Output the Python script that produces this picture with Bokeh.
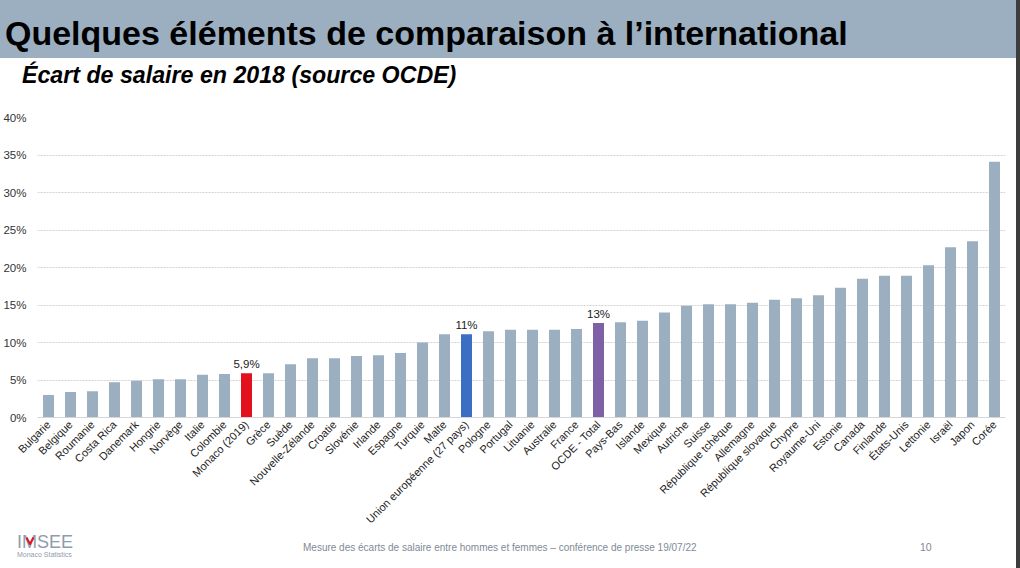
import math
from bokeh.plotting import figure
from bokeh.models import (ColumnDataSource, FactorRange, Range1d, FixedTicker,
                          PrintfTickFormatter, Div)
from bokeh.layouts import column
from bokeh.core.properties import value
from bokeh.embed import file_html
from bokeh.resources import INLINE

# ---------------- data ----------------
countries = [
    "Bulgarie", "Belgique", "Roumanie", "Costa Rica", "Danemark", "Hongrie", "Norvège",
    "Italie", "Colombie", "Monaco (2019)", "Grèce", "Suède", "Nouvelle-Zélande", "Croatie",
    "Slovénie", "Irlande", "Espagne", "Turquie", "Malte", "Union européenne (27 pays)",
    "Pologne", "Portugal", "Lituanie", "Australie", "France", "OCDE - Total", "Pays-Bas",
    "Islande", "Mexique", "Autriche", "Suisse", "République tchèque", "Allemagne",
    "République slovaque", "Chypre", "Royaume-Uni", "Estonie", "Canada", "Finlande",
    "États-Unis", "Lettonie", "Israël", "Japon", "Corée",
]
gaps = [
    3.0, 3.4, 3.5, 4.7, 4.9, 5.1, 5.1,
    5.7, 5.8, 5.9, 5.9, 7.1, 7.9, 7.9,
    8.2, 8.3, 8.6, 10.0, 11.1, 11.1,
    11.5, 11.7, 11.7, 11.7, 11.8, 12.6, 12.7,
    12.9, 14.0, 14.9, 15.1, 15.1, 15.3,
    15.7, 15.9, 16.3, 17.3, 18.5, 18.9,
    18.9, 20.3, 22.7, 23.5, 34.1,
]
highlight_names = ["Monaco (2019)", "Union européenne (27 pays)", "OCDE - Total"]
highlight_colors = ["#e3101e", "#3b6fc4", "#7e60a5"]
highlight_labels = ["5,9%", "11%", "13%"]
y_ticks = [0, 5, 10, 15, 20, 25, 30, 35, 40]

title_text = "Quelques éléments de comparaison à l’international"
subtitle_text = "Écart de salaire en 2018 (source OCDE)"
footer_text = "Mesure des écarts de salaire entre hommes et femmes – conférence de presse 19/07/22"
page_number = "10"
logo_text = "IMSEE"
logo_sub = "Monaco Statistics"

BAR = "#9bafc1"
FONT = value("Liberation Sans")
W = 1020
HDR_H, CH_H, FTR_H = 100, 432, 28
BL, BR, BT, FH = 37, 15, 17, 301
BB = CH_H - BT - FH


def absdiv(left, top, text, size, weight="normal", style="normal", color="#000000"):
    return (f'<div style="position:absolute;left:{left}px;top:{top}px;'
            f"font-family:'Liberation Sans',Arial,sans-serif;font-size:{size}px;"
            f'line-height:{size}px;font-weight:{weight};font-style:{style};'
            f'color:{color};white-space:nowrap;">{text}</div>')


# ---------------- header ----------------
hdr_html = (f'<div style="position:relative;width:{W}px;height:{HDR_H}px;">'
            f'<div style="position:absolute;left:0px;top:0px;width:1016px;height:58px;'
            f'background:{BAR};"></div>'
            '<div style="position:absolute;left:1016px;top:0px;width:4px;height:568px;'
            'background:#3d3d3d;z-index:10;"></div>'
            + absdiv(5, 15.5, title_text, 34, weight="bold")
            + absdiv(22, 64.4, subtitle_text, 23.2, weight="bold", style="italic")
            + '</div>')
hdr = Div(text=hdr_html, width=W, height=HDR_H, margin=0,
          styles={"overflow": "visible", "z-index": "10"})

# ---------------- chart ----------------
colors = [highlight_colors[highlight_names.index(c)] if c in highlight_names else BAR
          for c in countries]
src = ColumnDataSource(dict(x=countries, top=gaps, color=colors))

p = figure(x_range=FactorRange(factors=countries, range_padding=0), y_range=Range1d(0, 40),
           width=W, height=CH_H, output_backend="svg", toolbar_location=None,
           min_border_left=BL, min_border_right=BR, min_border_top=BT, min_border_bottom=BB)
p.outline_line_color = None
p.vbar(x="x", top="top", width=0.5, fill_color="color", line_color=None, source=src)

hl_vals = [gaps[countries.index(n)] for n in highlight_names]
p.text(x=highlight_names, y=hl_vals, text=highlight_labels, text_font=FONT,
       text_font_size="11.5px", text_color="#1a1a1a", text_align="center",
       text_baseline="alphabetic", y_offset=-9)

p.xgrid.visible = False
p.ygrid.grid_line_color = "#d3d3d3"
p.ygrid.grid_line_dash = "2 1"
p.ygrid.ticker = FixedTicker(ticks=y_ticks)

p.yaxis.ticker = FixedTicker(ticks=y_ticks)
p.yaxis.formatter = PrintfTickFormatter(format="%d%%")
p.yaxis.axis_line_color = None
p.yaxis.major_tick_line_color = None
p.yaxis.minor_tick_line_color = None
p.yaxis.major_tick_out = 0
p.yaxis.major_tick_in = 0
p.yaxis.minor_tick_out = 0
p.yaxis.major_label_text_font = "Liberation Sans"
p.yaxis.major_label_text_font_size = "11.5px"
p.yaxis.major_label_text_color = "#333333"
p.yaxis.major_label_standoff = 11

p.xaxis.axis_line_color = "#d6d6d6"
p.xaxis.major_tick_line_color = None
p.xaxis.minor_tick_line_color = None
p.xaxis.major_tick_out = 0
p.xaxis.major_tick_in = 0
p.xaxis.minor_tick_out = 0
p.xaxis.major_label_orientation = math.pi / 4
p.xaxis.major_label_text_font = "Liberation Sans"
p.xaxis.major_label_text_font_size = "11px"
p.xaxis.major_label_text_color = "#222222"
p.xaxis.major_label_standoff = 5

# ---------------- footer ----------------
logo_mark = ('<svg style="position:absolute;left:26px;top:5px;" width="8" height="8">'
             '<polyline points="0.5,0.5 4,7 7.5,0.5" stroke="#e3101e" stroke-width="2" '
             'fill="none"/></svg>')
ftr_html = (f'<div style="position:relative;width:{W}px;height:{FTR_H}px;">'
            + absdiv(17, 0.8, logo_text, 18, color="#8e9cae")
            + logo_mark
            + absdiv(17, 19, logo_sub, 7, color="#8e9cae")
            + absdiv(303, 10.5, footer_text, 10, color="#7f8a97")
            + absdiv(920, 10.1, page_number, 10.5, color="#7f8a97")
            + '</div>')
ftr = Div(text=ftr_html, width=W, height=FTR_H, margin=0,
          styles={"overflow": "visible"})

layout = column(hdr, p, ftr, spacing=0)
open("out.html", "w").write(file_html(layout, INLINE))
